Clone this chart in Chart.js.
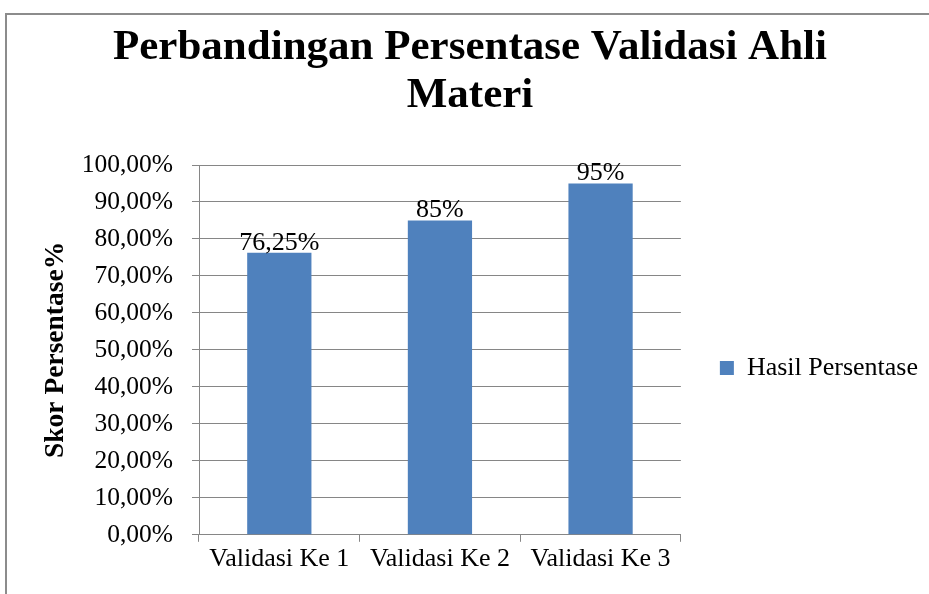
<!DOCTYPE html>
<html>
<head>
<meta charset="utf-8">
<script src="https://cdn.jsdelivr.net/npm/chart.js@4/dist/chart.umd.min.js"></script>
<style>
  html, body { margin: 0; padding: 0; background: #fff; overflow: hidden; }
  #wrap { position: relative; width: 929px; height: 594px; }
  #frame { position: absolute; left: 5px; top: 13px; width: 1000px; height: 1000px;
           border-left: 2px solid #8c8c8c; border-top: 2px solid #8c8c8c; }
  canvas { position: absolute; left: 0; top: 0; }
</style>
</head>
<body>
<div id="wrap">
  <div id="frame"></div>
  <canvas id="chart" width="929" height="594"></canvas>
</div>
<script>
// data
const categories = ["Validasi Ke 1", "Validasi Ke 2", "Validasi Ke 3"];
const hasilPersentase = [76.25, 85, 95];
const titleLines = ["Perbandingan Persentase Validasi Ahli", "Materi"];

const serif = "'Liberation Serif', 'Times New Roman', serif";
const gridGray = "#868686";

// tulis nilai di atas batang
const barLabels = {
  id: "barLabels",
  afterDatasetsDraw(chart) {
    const ctx = chart.ctx;
    ctx.save();
    ctx.font = "26px " + serif;
    ctx.fillStyle = "#000";
    ctx.textAlign = "center";
    ctx.textBaseline = "alphabetic";
    chart.getDatasetMeta(0).data.forEach((bar, i) => {
      const v = chart.data.datasets[0].data[i];
      ctx.fillText(String(v).replace(".", ",") + "%", bar.x, bar.y - 3);
    });
    ctx.restore();
  }
};

new Chart(document.getElementById("chart"), {
  type: "bar",
  data: {
    labels: categories,
    datasets: [{
      label: "Hasil Persentase",
      data: hasilPersentase,
      backgroundColor: "#4F81BD",
      barPercentage: 0.4,
      categoryPercentage: 1
    }]
  },
  options: {
    responsive: false,
    animation: false,
    layout: { padding: { left: 12, right: 1, top: 8, bottom: 17 } },
    plugins: {
      title: {
        display: true,
        text: titleLines,
        color: "#000",
        font: { family: serif, size: 43, weight: "bold", lineHeight: "48px" },
        padding: { top: 16, bottom: 45 }
      },
      legend: {
        position: "right",
        fullSize: false,
        maxWidth: 300,
        // judul kosong hanya untuk menurunkan item legenda sedikit
        title: { display: true, text: "", font: { size: 10 }, padding: { top: 12, bottom: 12 } },
        labels: {
          color: "#000",
          boxWidth: 14,
          boxHeight: 14,
          padding: 39,
          font: { family: serif, size: 26 }
        }
      },
      tooltip: { enabled: false }
    },
    scales: {
      x: {
        grid: { drawOnChartArea: false, drawTicks: true, tickLength: 7, color: gridGray, offset: true },
        border: { color: gridGray, width: 1 },
        ticks: { color: "#000", padding: 2, font: { family: serif, size: 26 } }
      },
      y: {
        min: 0,
        max: 100,
        afterFit(scale) { scale.width = 187; },
        ticks: {
          stepSize: 10,
          color: "#000",
          padding: 19,
          font: { family: serif, size: 25.5 },
          callback: v => v.toFixed(2).replace(".", ",") + "%"
        },
        grid: { color: gridGray, tickLength: 7 },
        border: { color: gridGray, width: 1 },
        title: {
          display: true,
          text: "Skor Persentase%",
          color: "#000",
          padding: { top: 27, bottom: 0 },
          font: { family: serif, size: 27.5, weight: "bold" }
        }
      }
    }
  },
  plugins: [barLabels]
});
</script>
</body>
</html>
